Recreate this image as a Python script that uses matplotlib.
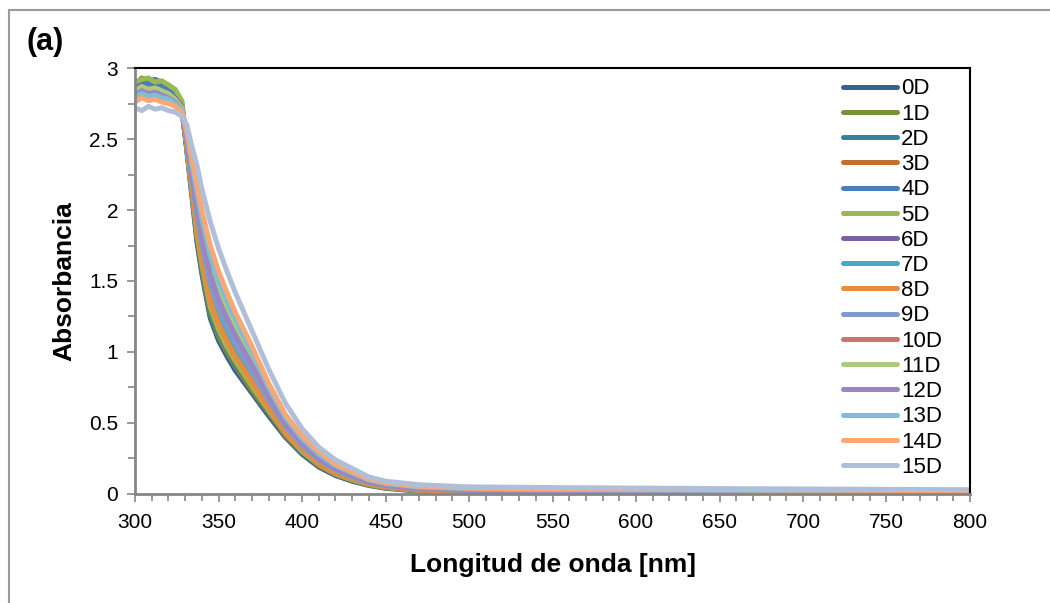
import matplotlib
matplotlib.use("Agg")
import matplotlib.pyplot as plt
from matplotlib.patches import Rectangle
from matplotlib.ticker import MultipleLocator

plt.rcParams['font.family'] = ['Liberation Sans', 'DejaVu Sans']

# Wavelength grid (nm)
wavelength = [300, 304, 308, 312, 316, 320, 324, 328,
              331, 334, 337, 340, 345, 350, 355, 360, 370, 380, 390, 400,
              410, 420, 430, 440, 450, 470, 500, 550, 650, 800]

labels = ['0D', '1D', '2D', '3D', '4D', '5D', '6D', '7D',
          '8D', '9D', '10D', '11D', '12D', '13D', '14D', '15D']

colors = ['#3b5f8f', '#77923c', '#31849b', '#c3702f', '#4a7ebb', '#98b954',
          '#7d60a0', '#46aac5', '#e98b3c', '#7c9ccf', '#cd7371', '#adcb7e',
          '#9c86bf', '#7dbed5', '#f9a874', '#afbfda']

abs_0D = [2.84, 2.90, 2.86, 2.91, 2.85, 2.83, 2.80, 2.72,
          2.42, 2.10, 1.78, 1.55, 1.24, 1.08, 0.97, 0.87, 0.71, 0.55, 0.40, 0.28,
          0.19, 0.13, 0.09, 0.06, 0.04, 0.02, 0.01, 0.005, 0.004, 0.003]
abs_1D = [2.88, 2.93, 2.91, 2.92, 2.90, 2.88, 2.84, 2.76,
          2.43, 2.12, 1.81, 1.58, 1.27, 1.11, 1.00, 0.90, 0.73, 0.57, 0.41, 0.29,
          0.20, 0.14, 0.095, 0.063, 0.043, 0.022, 0.012, 0.007, 0.006, 0.004]
abs_2D = [2.82, 2.86, 2.83, 2.87, 2.82, 2.81, 2.78, 2.72,
          2.43, 2.13, 1.82, 1.60, 1.29, 1.13, 1.02, 0.91, 0.75, 0.57, 0.42, 0.29,
          0.20, 0.14, 0.097, 0.065, 0.044, 0.024, 0.013, 0.008, 0.007, 0.005]
abs_3D = [2.80, 2.84, 2.81, 2.83, 2.80, 2.79, 2.76, 2.70,
          2.44, 2.14, 1.83, 1.61, 1.31, 1.15, 1.03, 0.93, 0.75, 0.58, 0.42, 0.30,
          0.20, 0.14, 0.10, 0.066, 0.045, 0.025, 0.014, 0.009, 0.007, 0.006]
abs_4D = [2.87, 2.91, 2.88, 2.92, 2.87, 2.86, 2.82, 2.74,
          2.45, 2.15, 1.86, 1.64, 1.34, 1.18, 1.06, 0.95, 0.78, 0.60, 0.43, 0.31,
          0.21, 0.15, 0.10, 0.07, 0.048, 0.027, 0.016, 0.011, 0.009, 0.007]
abs_5D = [2.90, 2.92, 2.93, 2.90, 2.91, 2.88, 2.85, 2.77,
          2.44, 2.14, 1.84, 1.62, 1.32, 1.16, 1.04, 0.94, 0.76, 0.59, 0.43, 0.30,
          0.21, 0.14, 0.10, 0.067, 0.046, 0.025, 0.015, 0.010, 0.008, 0.006]
abs_6D = [2.83, 2.88, 2.85, 2.86, 2.84, 2.82, 2.79, 2.73,
          2.46, 2.18, 1.90, 1.68, 1.39, 1.22, 1.10, 0.99, 0.81, 0.62, 0.45, 0.32,
          0.22, 0.15, 0.11, 0.073, 0.051, 0.030, 0.019, 0.014, 0.011, 0.009]
abs_7D = [2.80, 2.85, 2.82, 2.84, 2.81, 2.80, 2.77, 2.72,
          2.47, 2.21, 1.94, 1.73, 1.44, 1.28, 1.15, 1.04, 0.84, 0.64, 0.47, 0.33,
          0.23, 0.16, 0.117, 0.078, 0.055, 0.034, 0.022, 0.017, 0.014, 0.011]
abs_8D = [2.78, 2.81, 2.79, 2.80, 2.78, 2.77, 2.74, 2.70,
          2.45, 2.16, 1.88, 1.66, 1.36, 1.20, 1.08, 0.97, 0.79, 0.61, 0.44, 0.31,
          0.22, 0.15, 0.106, 0.071, 0.049, 0.028, 0.017, 0.012, 0.010, 0.008]
abs_9D = [2.82, 2.86, 2.83, 2.85, 2.82, 2.80, 2.77, 2.71,
          2.48, 2.22, 1.97, 1.76, 1.48, 1.31, 1.18, 1.06, 0.86, 0.66, 0.48, 0.34,
          0.24, 0.17, 0.12, 0.081, 0.058, 0.036, 0.024, 0.019, 0.016, 0.012]
abs_10D = [2.80, 2.83, 2.81, 2.82, 2.80, 2.78, 2.75, 2.70,
           2.51, 2.28, 2.05, 1.85, 1.58, 1.41, 1.27, 1.15, 0.93, 0.71, 0.51, 0.37,
           0.26, 0.19, 0.135, 0.090, 0.065, 0.043, 0.030, 0.025, 0.021, 0.017]
abs_11D = [2.84, 2.87, 2.85, 2.86, 2.84, 2.82, 2.78, 2.72,
           2.52, 2.29, 2.08, 1.88, 1.61, 1.44, 1.30, 1.17, 0.95, 0.72, 0.52, 0.37,
           0.27, 0.19, 0.14, 0.093, 0.068, 0.045, 0.032, 0.027, 0.023, 0.018]
abs_12D = [2.81, 2.84, 2.82, 2.83, 2.81, 2.79, 2.76, 2.70,
           2.50, 2.26, 2.02, 1.82, 1.55, 1.37, 1.24, 1.12, 0.91, 0.69, 0.50, 0.36,
           0.25, 0.18, 0.13, 0.087, 0.063, 0.040, 0.028, 0.023, 0.019, 0.015]
abs_13D = [2.79, 2.82, 2.80, 2.81, 2.79, 2.78, 2.75, 2.70,
           2.54, 2.33, 2.13, 1.94, 1.68, 1.50, 1.36, 1.23, 1.00, 0.75, 0.54, 0.39,
           0.28, 0.20, 0.148, 0.099, 0.073, 0.049, 0.036, 0.031, 0.026, 0.021]
abs_14D = [2.76, 2.79, 2.77, 2.78, 2.76, 2.75, 2.73, 2.69,
           2.56, 2.36, 2.19, 2.00, 1.75, 1.57, 1.42, 1.28, 1.04, 0.78, 0.56, 0.41,
           0.30, 0.21, 0.157, 0.105, 0.078, 0.054, 0.040, 0.035, 0.030, 0.023]
abs_15D = [2.72, 2.70, 2.73, 2.71, 2.72, 2.70, 2.69, 2.66,
           2.60, 2.45, 2.32, 2.15, 1.92, 1.73, 1.57, 1.42, 1.15, 0.88, 0.64, 0.46,
           0.33, 0.24, 0.18, 0.12, 0.09, 0.065, 0.05, 0.045, 0.038, 0.03]

series = [abs_0D, abs_1D, abs_2D, abs_3D, abs_4D, abs_5D, abs_6D, abs_7D,
          abs_8D, abs_9D, abs_10D, abs_11D, abs_12D, abs_13D, abs_14D, abs_15D]

fig = plt.figure(figsize=(10.5, 6.03), dpi=100)
ax = fig.add_axes([0.1286, 0.1808, 0.7952, 0.7064])

for vals, lab, col in zip(series, labels, colors):
    ax.plot(wavelength, vals, color=col, lw=3.6, label=lab, solid_capstyle='round')

ax.set_xlim(300, 800)
ax.set_ylim(0, 3)
ax.xaxis.set_major_locator(MultipleLocator(50))
ax.xaxis.set_minor_locator(MultipleLocator(10))
ax.yaxis.set_minor_locator(MultipleLocator(0.25))
ax.set_yticks([0, 0.5, 1, 1.5, 2, 2.5, 3])
ax.set_yticklabels(['0', '0.5', '1', '1.5', '2', '2.5', '3'])

ax.tick_params(which='both', direction='out', color='#868686', width=1.2,
               labelsize=15, top=False, right=False)
ax.tick_params(which='major', length=6)
ax.tick_params(which='minor', length=5)
ax.tick_params(axis='x', pad=8)
ax.tick_params(axis='y', pad=6)

for side in ['left', 'bottom']:
    ax.spines[side].set_color('#868686')
    ax.spines[side].set_linewidth(2)
for side in ['top', 'right']:
    ax.spines[side].set_color('black')
    ax.spines[side].set_linewidth(1.5)

ax.set_xlabel('Longitud de onda [nm]', fontsize=19, fontweight='bold', labelpad=15)
ax.set_ylabel('Absorbancia', fontsize=19, fontweight='bold', labelpad=9)

ax.legend(loc='upper left', bbox_to_anchor=(0.803, 0.870), bbox_transform=fig.transFigure,
          frameon=False, fontsize=16, handlelength=2.43, handletextpad=0.18,
          labelspacing=0.19, borderpad=0, borderaxespad=0)

fig.text(45 / 1050, 0.930, '(a)', fontsize=22, fontweight='bold', va='center', ha='center')

# outer frame
fig.patches.append(Rectangle((9 / 1050, -0.1), 1.2, 1.0834, transform=fig.transFigure,
                             fill=False, edgecolor='#9a9a9a', lw=1.5, clip_on=False))

fig.savefig('out.png', dpi=100)
